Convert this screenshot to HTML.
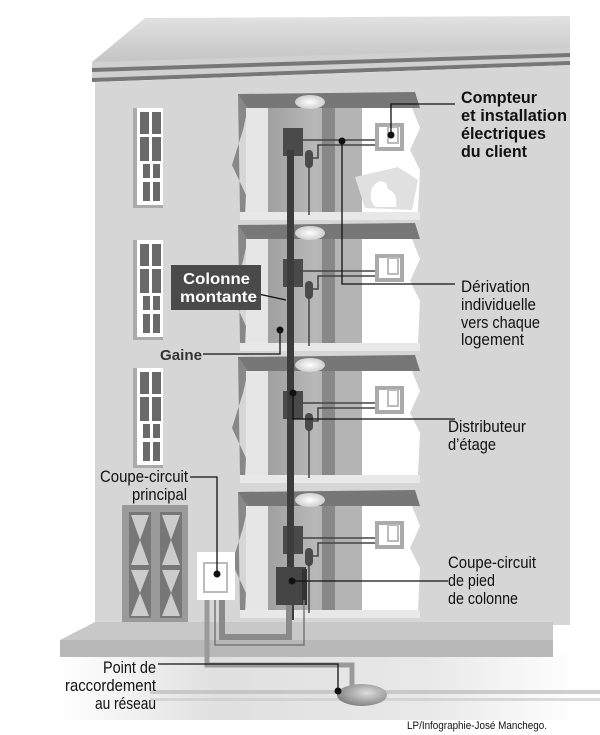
<!DOCTYPE html>
<html><head><meta charset="utf-8"><style>
html,body{margin:0;padding:0;background:#fff;}
svg{display:block;}
text{font-family:"Liberation Sans",sans-serif;fill:#111;}
</style></head><body>
<svg width="600" height="735" viewBox="0 0 600 735" xmlns="http://www.w3.org/2000/svg">
<defs>
<linearGradient id="roof" x1="0" y1="0" x2="0" y2="1"><stop offset="0" stop-color="#e2e2e2"/><stop offset="1" stop-color="#c4c4c4"/></linearGradient>
<linearGradient id="ground" x1="0" y1="0" x2="1" y2="0"><stop offset="0" stop-color="#fff"/><stop offset="0.3" stop-color="#e0e0e0"/><stop offset="0.7" stop-color="#e8e8e8"/><stop offset="1" stop-color="#fff"/></linearGradient>
<radialGradient id="lamp" cx="0.5" cy="0.5" r="0.5"><stop offset="0" stop-color="#fff"/><stop offset="1" stop-color="#cfcfcf"/></radialGradient>
<linearGradient id="shaft" x1="0" y1="0" x2="1" y2="0"><stop offset="0" stop-color="#a0a0a0"/><stop offset="0.5" stop-color="#b8b8b8"/><stop offset="1" stop-color="#9a9a9a"/></linearGradient>
<radialGradient id="rac" cx="0.6" cy="0.4" r="0.7"><stop offset="0" stop-color="#ddd"/><stop offset="1" stop-color="#777"/></radialGradient>
</defs>

<rect x="60" y="655" width="520" height="65" fill="url(#ground)"/>
<rect x="150" y="690" width="450" height="4" fill="#bbb" opacity="0.7"/>
<rect x="150" y="698" width="450" height="3" fill="#ccc" opacity="0.7"/>

<polygon points="145,18 570,16 570,52 92,62" fill="url(#roof)"/>
<polygon points="92,62 570,48 570,64 92,82" fill="#d0d0d0"/>
<polygon points="92,68 570,53 570,57 92,72" fill="#777"/>
<polygon points="92,78 570,61 570,65 92,82" fill="#777"/>
<polygon points="95,82 570,65 570,625 95,625" fill="#d6d6d6"/>

<g id="win">
<rect x="133" y="108" width="30" height="100" fill="#aaa"/>
<rect x="137" y="108" width="26" height="97" fill="#fff"/>
<rect x="140" y="112" width="9" height="22" fill="#6a6a6a"/><rect x="152" y="112" width="9" height="22" fill="#6a6a6a"/>
<rect x="140" y="137" width="9" height="24" fill="#6a6a6a"/><rect x="152" y="137" width="9" height="24" fill="#6a6a6a"/>
<rect x="143" y="164" width="7" height="14" fill="#6a6a6a"/><rect x="153" y="164" width="7" height="14" fill="#6a6a6a"/>
<rect x="143" y="182" width="7" height="19" fill="#6a6a6a"/><rect x="153" y="182" width="7" height="19" fill="#6a6a6a"/>
</g>
<use href="#win" y="132"/>
<use href="#win" y="260"/>

<rect x="122" y="505" width="66" height="118" fill="#9a9a9a"/>
<rect x="129" y="512" width="22" height="106" fill="#777"/>
<rect x="160" y="512" width="22" height="106" fill="#777"/>
<polygon points="131,515 149,515 131,565 149,565" fill="#ccc"/>
<polygon points="131,570 149,570 131,616 149,616" fill="#ccc"/>
<polygon points="162,515 180,515 162,565 180,565" fill="#ccc"/>
<polygon points="162,570 180,570 162,616 180,616" fill="#ccc"/>

<g id="floor">
<polygon points="238,94 415,92 420,108 240,108" fill="#777"/>
<polygon points="238,94 248,108 243,130 232,165 246,195 245,212 240,212" fill="#888"/>
<rect x="246" y="108" width="22" height="104" fill="#e6e6e6"/>
<rect x="268" y="108" width="95" height="104" fill="url(#shaft)"/>
<rect x="322" y="108" width="13" height="104" fill="#888"/>
<rect x="335" y="108" width="27" height="104" fill="#b4b4b4"/>
<polygon points="362,108 412,108 420,128 410,150 420,170 418,212 362,212" fill="#fff"/>
<rect x="240" y="212" width="180" height="8" fill="#e8e8e8"/>
<ellipse cx="310" cy="102" rx="15" ry="7" fill="url(#lamp)"/>
<rect x="283" y="128" width="20" height="28" fill="#4a4a4a"/>
<rect x="305" y="150" width="8" height="18" rx="4" fill="#4a4a4a"/>
<line x1="309" y1="165" x2="309" y2="215" stroke="#444" stroke-width="1.5"/>
<line x1="303" y1="140" x2="375" y2="140" stroke="#444" stroke-width="1.5"/>
<polyline points="313,158 318,158 318,145 375,145" fill="none" stroke="#444" stroke-width="1.5"/>
<rect x="377" y="125" width="25" height="24" fill="none" stroke="#aaa" stroke-width="4"/>
<rect x="388" y="127" width="10" height="16" fill="none" stroke="#bbb" stroke-width="2"/>
</g>
<use href="#floor" y="131"/>
<use href="#floor" y="263"/>
<use href="#floor" y="398"/>

<polygon points="355,177 398,167 418,180 412,210 365,208" fill="#e0e0e0"/>
<path d="M372,188 q6,-10 14,-5 l2,6 q10,4 8,18 l-20,0 q-8,-6 -4,-19z" fill="#fff"/>

<rect x="287" y="150" width="7" height="470" fill="#3c3c3c"/>
<rect x="276" y="567" width="30" height="38" fill="#454545"/>
<rect x="302" y="569" width="5" height="36" fill="#333"/>

<polygon points="60,640 95,622 553,622 553,640" fill="#c8c8c8"/>
<rect x="60" y="640" width="493" height="17" fill="#b8b8b8"/>

<path d="M207,600 V665 H352 V688" fill="none" stroke="#9a9a9a" stroke-width="5"/>
<path d="M222,600 V637 H289 V605" fill="none" stroke="#8a8a8a" stroke-width="6"/>
<path d="M215,600 V645 H304 V600" fill="none" stroke="#777" stroke-width="1.5"/>
<ellipse cx="362" cy="695" rx="25" ry="11" fill="url(#rac)"/>

<rect x="197" y="552" width="38" height="48" fill="#fff"/>
<rect x="204" y="563" width="23" height="29" fill="none" stroke="#bbb" stroke-width="2"/>

<g stroke="#111" stroke-width="1.3" fill="none">
<polyline points="455,104 391,104 391,135"/>
<polyline points="455,284 342,284 342,141"/>
<polyline points="455,419 293,419 293,393"/>
<polyline points="448,581 292,581"/>
<polyline points="190,477 217,477 217,574"/>
<polyline points="158,664 338,664 338,691"/>
<polyline points="203,354 280,354 280,330"/>
<polyline points="240,290 286,300"/>
</g>
<g fill="#111">
<circle cx="391" cy="135" r="3.5"/><circle cx="342" cy="141" r="3.5"/>
<circle cx="293" cy="393" r="3.5"/><circle cx="292" cy="581" r="3.5"/>
<circle cx="217" cy="574" r="3.5"/><circle cx="338" cy="691" r="3.5"/>
<circle cx="280" cy="330" r="3.5"/>
</g>

<rect x="171" y="265" width="90" height="45" fill="#4a4a4a"/>
<text x="183" y="284" font-size="16" font-weight="bold" style="fill:#fff" textLength="67" lengthAdjust="spacingAndGlyphs">Colonne</text>
<text x="180" y="302" font-size="16" font-weight="bold" style="fill:#fff" textLength="77" lengthAdjust="spacingAndGlyphs">montante</text>
<text x="160" y="360" font-size="15" font-weight="bold" style="fill:#333" textLength="42" lengthAdjust="spacingAndGlyphs">Gaine</text>

<g font-size="17" font-weight="bold">
<text x="461" y="103" textLength="76" lengthAdjust="spacingAndGlyphs">Compteur</text>
<text x="461" y="121" textLength="106" lengthAdjust="spacingAndGlyphs">et installation</text>
<text x="461" y="139" textLength="85" lengthAdjust="spacingAndGlyphs">électriques</text>
<text x="461" y="157" textLength="66" lengthAdjust="spacingAndGlyphs">du client</text>
</g>
<g font-size="17">
<text x="461" y="292" textLength="69" lengthAdjust="spacingAndGlyphs">Dérivation</text>
<text x="461" y="310" textLength="75" lengthAdjust="spacingAndGlyphs">individuelle</text>
<text x="461" y="328" textLength="79" lengthAdjust="spacingAndGlyphs">vers chaque</text>
<text x="461" y="345" textLength="63" lengthAdjust="spacingAndGlyphs">logement</text>
<text x="448" y="432" textLength="78" lengthAdjust="spacingAndGlyphs">Distributeur</text>
<text x="448" y="450" textLength="48" lengthAdjust="spacingAndGlyphs">d’étage</text>
<text x="448" y="568" textLength="88" lengthAdjust="spacingAndGlyphs">Coupe-circuit</text>
<text x="448" y="586" textLength="47" lengthAdjust="spacingAndGlyphs">de pied</text>
<text x="448" y="604" textLength="70" lengthAdjust="spacingAndGlyphs">de colonne</text>
<text x="100" y="482" textLength="88" lengthAdjust="spacingAndGlyphs">Coupe-circuit</text>
<text x="132" y="500" textLength="55" lengthAdjust="spacingAndGlyphs">principal</text>
<text x="103" y="673" textLength="53" lengthAdjust="spacingAndGlyphs">Point de</text>
<text x="65" y="691" textLength="91" lengthAdjust="spacingAndGlyphs">raccordement</text>
<text x="95" y="709" textLength="61" lengthAdjust="spacingAndGlyphs">au réseau</text>
</g>
<text x="407" y="729" font-size="11" textLength="140" lengthAdjust="spacingAndGlyphs">LP/Infographie-José Manchego.</text>
</svg>
</body></html>
